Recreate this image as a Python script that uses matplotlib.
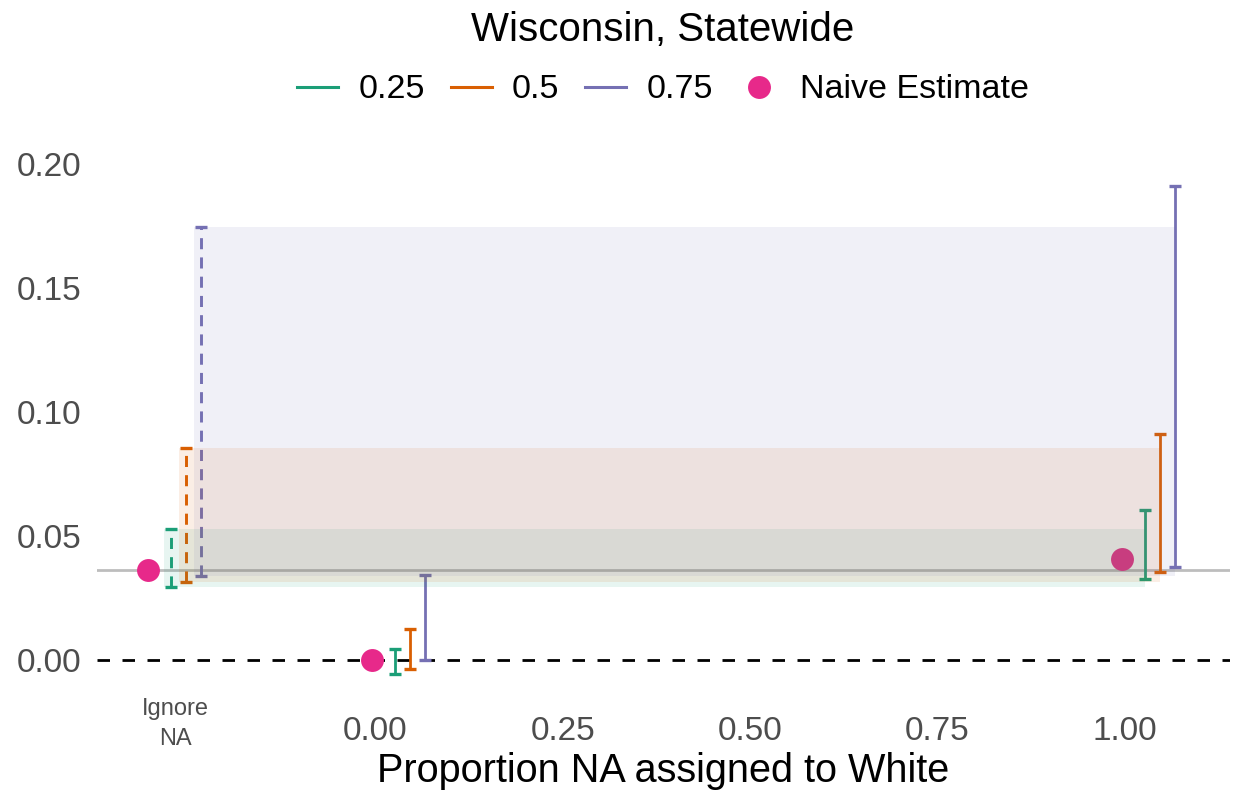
import matplotlib
matplotlib.use("Agg")
import matplotlib.pyplot as plt
from matplotlib.lines import Line2D
from matplotlib.patches import Rectangle

plt.rcParams["font.family"] = ["Liberation Sans", "DejaVu Sans"]

# group positions on x (Ignore NA sits left of 0)
ignore_x = -0.298
ignore_label_x = -0.266
props = [0.0, 1.0]

levels = ["0.25", "0.5", "0.75"]
colors = ["#1B9E77", "#D95F02", "#7570B3"]
offsets = [0.026, 0.046, 0.066]
naive_offset = -0.0045
naive_color = "#E7298A"

# naive estimates
naive_ignore = 0.0363
naive_props = [0.0003, 0.0410]

# interval bounds, Ignore NA
ignore_lo = [0.0296, 0.0316, 0.0339]
ignore_hi = [0.0531, 0.0854, 0.1747]

# interval bounds per proportion (rows: level, cols: 0.00, 1.00)
prop_lo = [[-0.0054, 0.0329], [-0.0034, 0.0356], [0.0003, 0.0376]]
prop_hi = [[0.0047, 0.0605], [0.0125, 0.0914], [0.0343, 0.1911]]

xticks = [0.0, 0.25, 0.5, 0.75, 1.0]
xticklabels = ["0.00", "0.25", "0.50", "0.75", "1.00"]
yticks = [0.0, 0.05, 0.10, 0.15, 0.20]
yticklabels = ["0.00", "0.05", "0.10", "0.15", "0.20"]

W, H = 1235, 792
fig = plt.figure(figsize=(W / 100, H / 100), dpi=100)
ax = fig.add_axes([97 / W, 1 - 698 / H, (1230 - 97) / W, (698 - 162) / H])

ax.axhline(0, color="black", lw=2, dashes=(4.5, 4.5), zorder=1)
ax.axhline(naive_ignore, color="#BDBDBD", lw=2, zorder=1)

# naive points
ax.plot([ignore_x + naive_offset], [naive_ignore], "o", ms=16.5,
        color=naive_color, mec="none", zorder=3)
ax.plot([p + naive_offset for p in props], naive_props, "o", ms=16.5,
        color=naive_color, mec="none", zorder=3)

for i, c in enumerate(colors):
    # dashed bars for Ignore NA
    xi = ignore_x + offsets[i]
    lo, hi = ignore_lo[i], ignore_hi[i]
    ax.plot([xi, xi], [lo, hi], color=c, lw=2.1, dashes=(3.8, 2.8), zorder=2)
    ax.plot([xi, xi], [lo, hi], ls="none", marker="_", ms=9, mew=2.4,
            color=c, zorder=2)
    # solid bars for 0 and 1
    for j, p in enumerate(props):
        xp = p + offsets[i]
        ax.errorbar([xp], [(prop_lo[i][j] + prop_hi[i][j]) / 2],
                    yerr=[[(prop_hi[i][j] - prop_lo[i][j]) / 2]],
                    fmt="none", ecolor=c, elinewidth=2.0, capsize=4.5,
                    capthick=2.4, zorder=2)
    # shaded band carrying the Ignore NA interval across
    left = xi - 0.01
    right = props[-1] + offsets[i]
    ax.add_patch(Rectangle((left, lo), right - left, hi - lo,
                           facecolor=c, alpha=0.1, lw=0, zorder=4))

ax.set_xlim(-0.371, 1.140)
ax.set_ylim(-0.0152, 0.2009)
ax.set_xticks(xticks)
ax.set_xticklabels(xticklabels)
ax.set_yticks(yticks)
ax.set_yticklabels(yticklabels)
ax.tick_params(length=0, labelsize=24, labelcolor="#4D4D4D")
ax.tick_params(axis="y", pad=11)
ax.tick_params(axis="x", pad=13)
for s in ax.spines.values():
    s.set_visible(False)

ax.text(ignore_label_x, -0.0152, "Ignore\nNA", transform=ax.transData,
        ha="center", va="top", fontsize=17, color="#4D4D4D",
        linespacing=1.45)

fig.text(663 / W, 1 - 782 / H, "Proportion NA assigned to White",
         ha="center", va="baseline", fontsize=28.5)
fig.text(663 / W, 1 - 30 / H, "Wisconsin, Statewide",
         ha="center", va="center", fontsize=29)

handles = [Line2D([], [], color=c, lw=2.2) for c in colors]
handles.append(Line2D([], [], ls="none", marker="o", ms=16.5,
                      color=naive_color, mec="none"))
fig.legend(handles, levels + ["Naive Estimate"], loc="center",
           bbox_to_anchor=(663 / W, 1 - 90 / H), ncol=4, frameon=False,
           fontsize=24.5, handlelength=1.2, handletextpad=0.6,
           columnspacing=0.75)

fig.savefig("out.png", dpi=100)
